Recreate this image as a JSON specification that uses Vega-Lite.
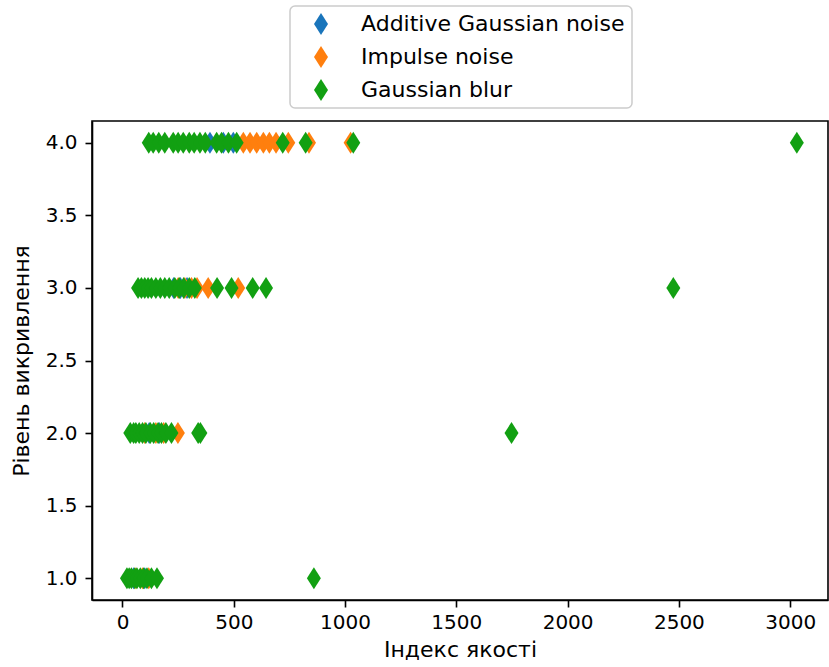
{
  "$schema": "https://vega.github.io/schema/vega-lite/v6.json",
  "width": 736,
  "height": 479,
  "autosize": {"type": "none"},
  "padding": {"left": 92, "top": 121, "right": 1, "bottom": 67},
  "background": "white",
  "config": {
    "font": "DejaVu Sans",
    "view": {"stroke": "black", "strokeWidth": 1.6},
    "axis": {
      "grid": false,
      "domainColor": "black",
      "domainWidth": 1.6,
      "tickColor": "black",
      "tickWidth": 1.6,
      "tickSize": 7,
      "labelColor": "black",
      "labelFont": "DejaVu Sans",
      "labelFontSize": 20,
      "titleFont": "DejaVu Sans",
      "titleFontSize": 22,
      "titleFontWeight": "normal",
      "titleColor": "black"
    },
    "legend": {
      "orient": "none",
      "legendX": 198,
      "legendY": -115,
      "direction": "vertical",
      "padding": 7,
      "symbolOffset": 13,
      "symbolSize": 484,
      "symbolType": "M0,-1L0.636,0L0,1L-0.636,0Z",
      "symbolStrokeWidth": 0,
      "labelFont": "DejaVu Sans",
      "labelFontSize": 22,
      "labelLimit": 0,
      "labelColor": "black",
      "labelOffset": 29,
      "rowPadding": 11,
      "strokeColor": "#cccccc",
      "strokeWidth": 1.5,
      "cornerRadius": 5,
      "fillColor": "white"
    }
  },
  "data": {
    "values": [
      {"index": 50, "level": 1, "type": "Additive Gaussian noise"},
      {"index": 100, "level": 1, "type": "Additive Gaussian noise"},
      {"index": 120, "level": 2, "type": "Additive Gaussian noise"},
      {"index": 165, "level": 2, "type": "Additive Gaussian noise"},
      {"index": 230, "level": 3, "type": "Additive Gaussian noise"},
      {"index": 260, "level": 3, "type": "Additive Gaussian noise"},
      {"index": 290, "level": 3, "type": "Additive Gaussian noise"},
      {"index": 393, "level": 4, "type": "Additive Gaussian noise"},
      {"index": 453, "level": 4, "type": "Additive Gaussian noise"},
      {"index": 498, "level": 4, "type": "Additive Gaussian noise"},

      {"index": 60, "level": 1, "type": "Impulse noise"},
      {"index": 90, "level": 1, "type": "Impulse noise"},
      {"index": 118, "level": 1, "type": "Impulse noise"},
      {"index": 100, "level": 2, "type": "Impulse noise"},
      {"index": 150, "level": 2, "type": "Impulse noise"},
      {"index": 185, "level": 2, "type": "Impulse noise"},
      {"index": 249, "level": 2, "type": "Impulse noise"},
      {"index": 250, "level": 3, "type": "Impulse noise"},
      {"index": 280, "level": 3, "type": "Impulse noise"},
      {"index": 310, "level": 3, "type": "Impulse noise"},
      {"index": 335, "level": 3, "type": "Impulse noise"},
      {"index": 385, "level": 3, "type": "Impulse noise"},
      {"index": 520, "level": 3, "type": "Impulse noise"},
      {"index": 543, "level": 4, "type": "Impulse noise"},
      {"index": 573, "level": 4, "type": "Impulse noise"},
      {"index": 603, "level": 4, "type": "Impulse noise"},
      {"index": 633, "level": 4, "type": "Impulse noise"},
      {"index": 660, "level": 4, "type": "Impulse noise"},
      {"index": 690, "level": 4, "type": "Impulse noise"},
      {"index": 745, "level": 4, "type": "Impulse noise"},
      {"index": 838, "level": 4, "type": "Impulse noise"},
      {"index": 1025, "level": 4, "type": "Impulse noise"},

      {"index": 20, "level": 1, "type": "Gaussian blur"},
      {"index": 30, "level": 1, "type": "Gaussian blur"},
      {"index": 40, "level": 1, "type": "Gaussian blur"},
      {"index": 55, "level": 1, "type": "Gaussian blur"},
      {"index": 65, "level": 1, "type": "Gaussian blur"},
      {"index": 80, "level": 1, "type": "Gaussian blur"},
      {"index": 95, "level": 1, "type": "Gaussian blur"},
      {"index": 110, "level": 1, "type": "Gaussian blur"},
      {"index": 130, "level": 1, "type": "Gaussian blur"},
      {"index": 155, "level": 1, "type": "Gaussian blur"},
      {"index": 860, "level": 1, "type": "Gaussian blur"},
      {"index": 35, "level": 2, "type": "Gaussian blur"},
      {"index": 50, "level": 2, "type": "Gaussian blur"},
      {"index": 60, "level": 2, "type": "Gaussian blur"},
      {"index": 75, "level": 2, "type": "Gaussian blur"},
      {"index": 90, "level": 2, "type": "Gaussian blur"},
      {"index": 105, "level": 2, "type": "Gaussian blur"},
      {"index": 125, "level": 2, "type": "Gaussian blur"},
      {"index": 140, "level": 2, "type": "Gaussian blur"},
      {"index": 160, "level": 2, "type": "Gaussian blur"},
      {"index": 175, "level": 2, "type": "Gaussian blur"},
      {"index": 195, "level": 2, "type": "Gaussian blur"},
      {"index": 220, "level": 2, "type": "Gaussian blur"},
      {"index": 340, "level": 2, "type": "Gaussian blur"},
      {"index": 350, "level": 2, "type": "Gaussian blur"},
      {"index": 1748, "level": 2, "type": "Gaussian blur"},
      {"index": 70, "level": 3, "type": "Gaussian blur"},
      {"index": 85, "level": 3, "type": "Gaussian blur"},
      {"index": 100, "level": 3, "type": "Gaussian blur"},
      {"index": 115, "level": 3, "type": "Gaussian blur"},
      {"index": 130, "level": 3, "type": "Gaussian blur"},
      {"index": 150, "level": 3, "type": "Gaussian blur"},
      {"index": 170, "level": 3, "type": "Gaussian blur"},
      {"index": 190, "level": 3, "type": "Gaussian blur"},
      {"index": 210, "level": 3, "type": "Gaussian blur"},
      {"index": 235, "level": 3, "type": "Gaussian blur"},
      {"index": 255, "level": 3, "type": "Gaussian blur"},
      {"index": 275, "level": 3, "type": "Gaussian blur"},
      {"index": 300, "level": 3, "type": "Gaussian blur"},
      {"index": 325, "level": 3, "type": "Gaussian blur"},
      {"index": 425, "level": 3, "type": "Gaussian blur"},
      {"index": 490, "level": 3, "type": "Gaussian blur"},
      {"index": 585, "level": 3, "type": "Gaussian blur"},
      {"index": 645, "level": 3, "type": "Gaussian blur"},
      {"index": 2475, "level": 3, "type": "Gaussian blur"},
      {"index": 118, "level": 4, "type": "Gaussian blur"},
      {"index": 138, "level": 4, "type": "Gaussian blur"},
      {"index": 163, "level": 4, "type": "Gaussian blur"},
      {"index": 190, "level": 4, "type": "Gaussian blur"},
      {"index": 228, "level": 4, "type": "Gaussian blur"},
      {"index": 250, "level": 4, "type": "Gaussian blur"},
      {"index": 273, "level": 4, "type": "Gaussian blur"},
      {"index": 300, "level": 4, "type": "Gaussian blur"},
      {"index": 322, "level": 4, "type": "Gaussian blur"},
      {"index": 348, "level": 4, "type": "Gaussian blur"},
      {"index": 372, "level": 4, "type": "Gaussian blur"},
      {"index": 423, "level": 4, "type": "Gaussian blur"},
      {"index": 445, "level": 4, "type": "Gaussian blur"},
      {"index": 476, "level": 4, "type": "Gaussian blur"},
      {"index": 513, "level": 4, "type": "Gaussian blur"},
      {"index": 720, "level": 4, "type": "Gaussian blur"},
      {"index": 823, "level": 4, "type": "Gaussian blur"},
      {"index": 1037, "level": 4, "type": "Gaussian blur"},
      {"index": 3030, "level": 4, "type": "Gaussian blur"}
    ]
  },
  "mark": {
    "type": "point",
    "filled": true,
    "opacity": 1,
    "size": 484,
    "strokeWidth": 0,
    "shape": "M0,-1L0.636,0L0,1L-0.636,0Z"
  },
  "encoding": {
    "x": {
      "field": "index",
      "type": "quantitative",
      "scale": {"domain": [-137, 3170], "nice": false, "zero": false},
      "axis": {"values": [0, 500, 1000, 1500, 2000, 2500, 3000], "format": "d", "labelPadding": 5, "titlePadding": 7, "title": "Індекс якості"}
    },
    "y": {
      "field": "level",
      "type": "quantitative",
      "scale": {"domain": [0.85, 4.15], "nice": false, "zero": false},
      "axis": {"values": [1, 1.5, 2, 2.5, 3, 3.5, 4], "format": ".1f", "labelPadding": 8, "titlePadding": 12, "title": "Рівень викривлення"}
    },
    "color": {
      "field": "type",
      "type": "nominal",
      "scale": {
        "domain": ["Additive Gaussian noise", "Impulse noise", "Gaussian blur"],
        "range": ["#1a75bb", "#ff7f0e", "#12a012"]
      },
      "legend": {"title": null}
    }
  }
}
